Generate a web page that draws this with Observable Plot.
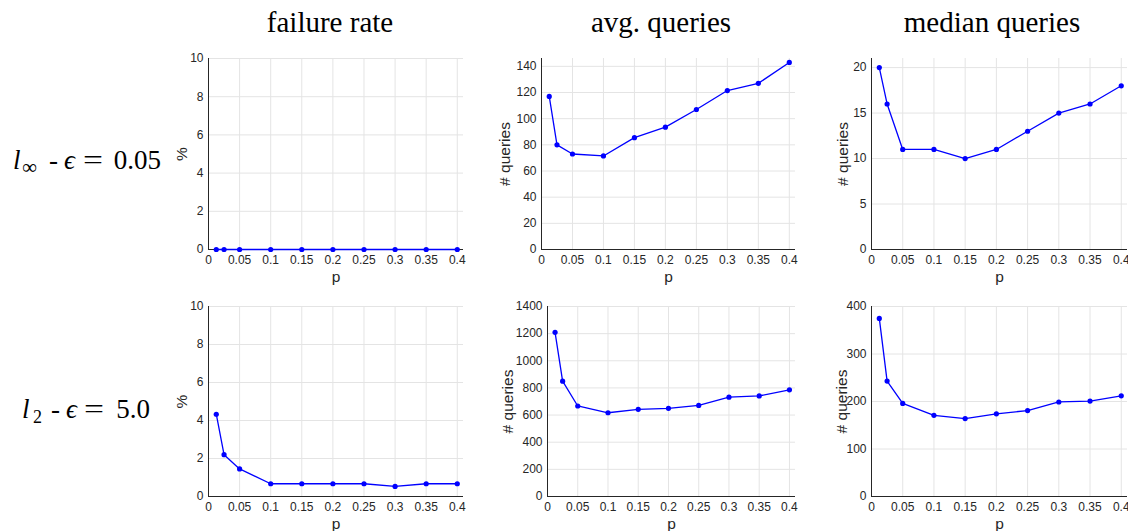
<!DOCTYPE html>
<html><head><meta charset="utf-8">
<script src="https://cdn.jsdelivr.net/npm/d3@7"></script>
<script src="https://cdn.jsdelivr.net/npm/@observablehq/plot@0.6"></script>
<style>
html,body{margin:0;padding:0;background:#fff;overflow:hidden}
#root{position:relative;width:1128px;height:531px;overflow:hidden;background:#fff}
.panel{position:absolute}
#overlay{position:absolute;left:0;top:0;pointer-events:none}
</style></head><body><div id="root"></div>
<script>
// ---- data ----
const p = [0.0125, 0.025, 0.05, 0.1, 0.15, 0.2, 0.25, 0.3, 0.35, 0.4];
const failureLinf = [0, 0, 0, 0, 0, 0, 0, 0, 0, 0];
const avgLinf = [117, 80, 73, 71.5, 85.5, 93.5, 107, 121.5, 127, 143];
const medianLinf = [20, 16, 11, 11, 10, 11, 13, 15, 16, 18];
const failureL2 = [4.33, 2.2, 1.45, 0.67, 0.67, 0.67, 0.67, 0.53, 0.67, 0.67];
const avgL2 = [1210, 850, 667, 617, 642, 650, 671, 732, 741, 786];
const medianL2 = [375, 243, 196, 171, 164, 174, 181, 199, 201, 212];
const xTicks = [0, 0.05, 0.1, 0.15, 0.2, 0.25, 0.3, 0.35, 0.4];
const xTickLabels = ["0", "0.05", "0.1", "0.15", "0.2", "0.25", "0.3", "0.35", "0.4"];
const columnTitles = ["failure rate", "avg. queries", "median queries"];
const yLabels = ["%", "# queries", "# queries"];
const yTicksFailure = [0, 2, 4, 6, 8, 10];
const yTicksAvgLinf = [0, 20, 40, 60, 80, 100, 120, 140];
const yTicksMedianLinf = [0, 5, 10, 15, 20];
const yTicksAvgL2 = [0, 200, 400, 600, 800, 1000, 1200, 1400];
const yTicksMedianL2 = [0, 100, 200, 300, 400];
const xLabel = "p";
const rowNorms = ["\u221E", "2"];
const rowEpsilons = ["0.05", "5.0"];

// ---- layout (plot-area rectangles, px) ----
const panels = [
  {values: failureLinf, yTicks: yTicksFailure, yMax: 10, col: 0, L: 208, T: 58, W: 255, H: 191, lo: 33},
  {values: avgLinf, yTicks: yTicksAvgLinf, yMax: 146, col: 1, L: 541, T: 58, W: 254, H: 191, lo: 43},
  {values: medianLinf, yTicks: yTicksMedianLinf, yMax: 21, col: 2, L: 871, T: 58, W: 256, H: 191, lo: 35},
  {values: failureL2, yTicks: yTicksFailure, yMax: 10, col: 0, L: 208, T: 306, W: 255, H: 190, lo: 33},
  {values: avgL2, yTicks: yTicksAvgL2, yMax: 1400, col: 1, L: 547, T: 306, W: 248, H: 190, lo: 46},
  {values: medianL2, yTicks: yTicksMedianL2, yMax: 400, col: 2, L: 871, T: 306, W: 256, H: 190, lo: 36}
];
const ML = 60, MR = 2, MT = 8, MB = 40;
const root = document.getElementById("root");
const blue = "#0000ff", axisColor = "#262626", gridColor = "#e4e4e4";

for (const pn of panels) {
  const data = p.map((x, i) => ({p: x, v: pn.values[i]}));
  const chart = Plot.plot({
    width: ML + pn.W + MR,
    height: MT + pn.H + MB,
    marginLeft: ML, marginRight: MR, marginTop: MT, marginBottom: MB,
    style: {fontFamily: "'Liberation Sans', Arial, sans-serif", fontSize: "12px", color: axisColor, background: "transparent", overflow: "visible"},
    x: {domain: [0, 0.41]},
    y: {domain: [0, pn.yMax]},
    marks: [
      Plot.gridX(xTicks, {stroke: gridColor, strokeOpacity: 1}),
      Plot.gridY(pn.yTicks, {stroke: gridColor, strokeOpacity: 1}),
      Plot.axisX(xTicks, {tickSize: 0, tickPadding: 6, tickFormat: d => xTickLabels[xTicks.indexOf(d)], label: null}),
      Plot.axisY(pn.yTicks, {tickSize: 0, tickPadding: 5, tickFormat: d => String(d), label: null}),
      Plot.text([xLabel], {text: d => d, frameAnchor: "bottom", dy: 32, lineAnchor: "bottom", fontSize: 15.5, fill: axisColor}),
      Plot.text([yLabels[pn.col]], {text: d => d, frameAnchor: "middle", dx: -(pn.W / 2 + pn.lo), rotate: -90, lineAnchor: "top", fontSize: 15.5, fill: axisColor}),
      Plot.ruleX([0], {stroke: axisColor, strokeWidth: 1}),
      Plot.ruleY([0], {stroke: axisColor, strokeWidth: 1}),
      Plot.line(data, {x: "p", y: "v", stroke: blue, strokeWidth: 1.3}),
      Plot.dot(data, {x: "p", y: "v", r: 2.6, fill: blue, stroke: "none"})
    ]
  });
  chart.classList.add("panel");
  chart.style.left = (pn.L - ML) + "px";
  chart.style.top = (pn.T - MT) + "px";
  root.appendChild(chart);
}

// ---- titles and row labels ----
const titleX = [330, 661, 992];
const ns = "http://www.w3.org/2000/svg";
const ov = document.createElementNS(ns, "svg");
ov.setAttribute("id", "overlay");
ov.setAttribute("width", 1128);
ov.setAttribute("height", 531);
ov.setAttribute("font-family", "'Liberation Serif', 'DejaVu Serif', serif");
function addText(str, x, y, size, attrs = {}) {
  const el = document.createElementNS(ns, "text");
  el.setAttribute("x", x);
  el.setAttribute("y", y);
  el.setAttribute("font-size", size);
  el.setAttribute("fill", "#000");
  for (const k in attrs) el.setAttribute(k, attrs[k]);
  el.textContent = str;
  ov.appendChild(el);
  return el;
}
columnTitles.forEach((t, i) => addText(t, titleX[i], 32, 29, {"text-anchor": "middle"}));

const rowLayout = [
  {y: 169, l: 13, sub: 22, subSize: 21, dash: 49, eps: 64, eq: 83, num: 161},
  {y: 418, l: 22, sub: 33, subSize: 18, dash: 51, eps: 66, eq: 84, num: 150}
];
rowLayout.forEach((r, i) => {
  addText("l", r.l, r.y, 27, {"font-style": "italic"});
  addText(rowNorms[i], r.sub, r.y + 5, r.subSize);
  addText("-", r.dash, r.y, 27);
  addText("\u03F5", r.eps, r.y, 27, {"font-style": "italic"});
  addText("=", r.eq, r.y, 27, {"textLength": 20, "lengthAdjust": "spacingAndGlyphs"});
  addText(rowEpsilons[i], r.num, r.y, 27, {"text-anchor": "end"});
});
root.appendChild(ov);
</script>
</body></html>
